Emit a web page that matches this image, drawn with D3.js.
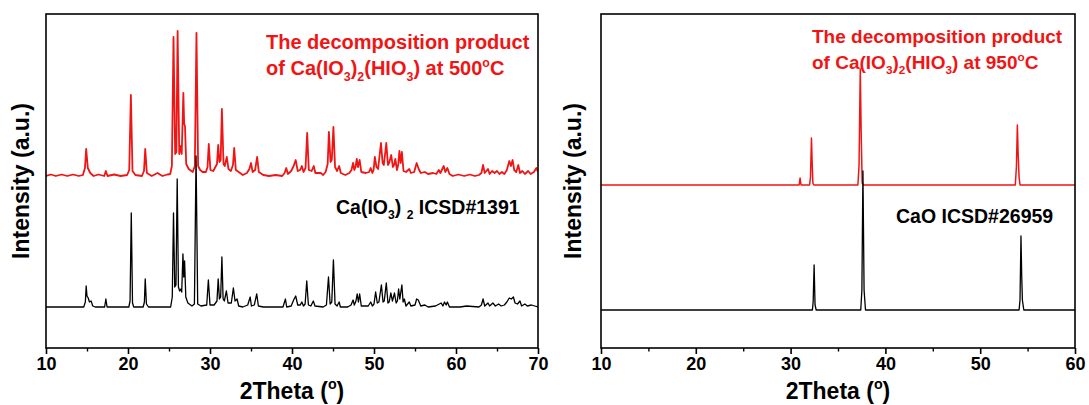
<!DOCTYPE html>
<html>
<head>
<meta charset="utf-8">
<script src="https://cdn.jsdelivr.net/npm/d3@7"></script>
<style>
  body { margin: 0; background: #fff; }
  text { font-family: "Liberation Sans", Arial, sans-serif; font-weight: bold; }
</style>
</head>
<body>
<svg id="chart" width="1089" height="405"></svg>
<script>
// ---- data (2Theta in degrees, intensity in a.u.) ----
const xTicksLeft = [10, 20, 30, 40, 50, 60, 70];
const xMinorLeft = [15, 25, 35, 45, 55, 65];
const xTicksRight = [10, 20, 30, 40, 50, 60];
const xMinorRight = [15, 25, 35, 45, 55];

// vertical offsets of the stacked patterns (a.u.)
const offsetLeftRed = 172;
const offsetLeftBlack = 41;
const offsetRightRed = 163;
const offsetRightBlack = 38;

// decomposition product at 500 C
const leftRed = [
  [10,0],[10.6,1.5],[11.2,0],[11.9,1.5],[12.6,0],[13.3,1.5],[14,0],[14.5,1],[14.75,8],[14.9,27],[15.1,8],[15.4,3],[15.8,0],
  [16.4,1.5],[17.1,0],[17.3,5],[17.5,0],[18.3,1.5],[19.1,0],[19.9,1],[20.15,6],[20.35,81],[20.55,5],[20.9,1],[21.7,0],
  [21.95,5],[22.1,27],[22.3,3],[22.9,0],[23.6,3],[24.2,0],[24.8,1.5],[25.15,2],[25.35,10],[25.55,139],[25.75,22],[25.9,24],
  [26.05,145],[26.25,22],[26.45,30],[26.55,22],[26.75,83],[26.85,52],[26.95,50],[27.1,12],[27.4,7],[27.9,4],[28.15,10],
  [28.35,143],[28.55,10],[28.8,6],[29.1,4],[29.5,4],[29.7,9],[29.85,32],[30.05,6],[30.4,5],[30.85,12],[31.0,31],[31.15,14],
  [31.3,16],[31.45,67],[31.65,12],[31.8,10],[32.05,19],[32.25,7],[32.55,5],[32.8,11],[32.95,28],[33.15,6],[33.5,4],[34.0,1],
  [34.5,3],[34.8,7],[35.0,13],[35.2,4],[35.5,6],[35.75,19],[35.95,4],[36.5,1],[37.2,0],[38.0,1],[38.8,0],[39.1,3],[39.3,8],
  [39.5,2],[39.9,5],[40.2,10],[40.45,16],[40.7,5],[41.0,6],[41.2,10],[41.4,4],[41.65,8],[41.85,43],[42.05,6],[42.4,5],
  [42.65,10],[42.85,3],[43.5,3],[43.8,1],[44.1,4],[44.35,12],[44.5,44],[44.7,14],[44.85,16],[45.05,49],[45.25,9],[45.5,5],
  [45.75,10],[45.95,3],[46.5,1],[47.0,3],[47.25,6],[47.45,13],[47.6,6],[47.75,9],[47.9,17],[48.05,9],[48.25,16],[48.45,4],
  [49.0,3],[49.4,4],[49.6,8],[49.8,3],[49.95,6],[50.1,19],[50.3,9],[50.5,7],[50.85,33],[51.05,13],[51.2,11],[51.5,33],
  [51.7,11],[51.85,13],[52.1,21],[52.3,9],[52.45,11],[52.6,17],[52.8,6],[52.95,11],[53.1,25],[53.25,13],[53.4,24],[53.6,5],
  [53.9,4],[54.3,7],[54.5,3],[54.9,4],[55.2,13],[55.45,7],[55.7,3],[56.2,4],[56.6,2],[57.2,3],[57.6,2],[57.9,6],[58.1,3],
  [58.5,10],[58.7,4],[58.95,8],[59.2,2],[59.6,0],[60.3,1.5],[61.0,0],[61.7,1.5],[62.3,0],[62.8,1],[63.1,3],[63.3,11],
  [63.5,3],[63.9,7],[64.1,2],[64.4,5],[64.7,3],[65.0,5],[65.3,2],[65.6,4],[65.9,2],[66.2,6],[66.5,15],[66.7,10],[66.9,16],
  [67.1,6],[67.35,4],[67.6,11],[67.8,3],[68.1,5],[68.4,2],[68.8,5],[69.1,2],[69.5,4],[69.8,8],[70,4]
];

// Ca(IO3)2 ICSD#1391
const leftBlack = [
  [10,0],[14.6,0],[14.8,5],[14.9,21],[15.0,11],[15.15,9],[15.3,5],[15.5,6],[15.7,1],[16,0],[17.15,0],[17.3,8],[17.45,0],
  [20.1,0],[20.25,6],[20.4,94],[20.55,4],[20.7,0],[21.85,0],[22.0,5],[22.1,28],[22.25,3],[22.5,0],[25.2,0],[25.4,10],
  [25.55,94],[25.7,20],[25.85,22],[26.0,128],[26.15,20],[26.3,16],[26.45,18],[26.55,15],[26.7,53],[26.8,30],[26.9,46],
  [27.05,10],[27.3,4],[27.8,1],[28.1,3],[28.3,151],[28.5,3],[28.9,1],[29.6,2],[29.8,27],[30.0,2],[30.5,2],[30.85,6],
  [31.0,28],[31.15,8],[31.3,10],[31.45,50],[31.6,8],[31.75,6],[32.0,16],[32.2,4],[32.6,4],[32.85,19],[33.05,6],[33.3,8],
  [33.5,1],[34.0,0],[34.6,2],[34.9,10],[35.05,1],[35.4,2],[35.7,13],[35.9,1],[36.5,0],[38.9,0],[39.2,8],[39.35,0],[39.9,1],
  [40.2,7],[40.45,11],[40.7,2],[41.0,2],[41.2,5],[41.4,1],[41.6,3],[41.8,26],[42.0,2],[42.3,1],[42.6,6],[42.8,1],[43.8,0],
  [44.2,2],[44.45,30],[44.65,3],[44.85,5],[45.05,47],[45.25,3],[45.5,1],[45.75,5],[45.9,0],[46.8,0],[47.2,2],[47.45,7],
  [47.6,2],[47.8,6],[47.95,13],[48.1,5],[48.25,13],[48.45,1],[49.0,1],[49.3,1],[49.6,5],[49.8,1],[50.0,3],[50.2,15],
  [50.4,4],[50.6,5],[50.9,22],[51.1,5],[51.25,6],[51.5,24],[51.7,4],[51.85,5],[52.05,14],[52.25,6],[52.5,14],[52.7,4],
  [52.85,6],[53.0,18],[53.15,8],[53.4,22],[53.55,5],[53.7,8],[53.9,1],[54.3,5],[54.5,1],[55.0,2],[55.2,8],[55.4,7],
  [55.7,1],[56.2,2],[56.6,0],[57.5,1],[58.2,4],[58.4,1],[58.6,5],[58.8,2],[58.95,5],[59.2,0],[60.5,0],[61.3,1],[62.8,0],
  [63.1,2],[63.3,8],[63.5,1],[63.9,4],[64.1,1],[64.5,4],[64.8,1],[65.2,3],[65.5,1],[65.9,2],[66.2,5],[66.5,9],[66.75,8],
  [67.0,10],[67.2,4],[67.5,3],[67.8,6],[68.0,1],[68.4,3],[68.7,1],[69.2,2],[69.6,1],[70,0]
];

// decomposition product at 950 C
const rightRed = [
  [10,0],[30.9,0],[31.0,7],[31.1,0],[32.0,0],[32.1,8],[32.2,47],[32.27,24],[32.35,2],[32.45,0],[37.1,0],[37.22,20],
  [37.35,116],[37.44,55],[37.55,2],[37.7,0],[53.7,0],[53.82,18],[53.92,60],[54.0,32],[54.1,8],[54.2,0],[60,0]
];

// CaO ICSD#26959
const rightBlack = [
  [10,0],[32.3,0],[32.38,8],[32.48,45],[32.58,5],[32.7,0],[37.4,0],[37.52,20],[37.63,139],[37.75,20],[37.9,0],
  [54.1,0],[54.2,10],[54.3,74],[54.38,34],[54.45,10],[54.6,0],[60,0]
];

// ---- layout ----
const red = "#f01515";
const svg = d3.select("#chart");
const plotTop = 14, plotBottom = 348;

const panels = [
  {
    x0: 46, x1: 538, domain: [10, 70], ticks: xTicksLeft, minor: xMinorLeft,
    series: [
      { data: leftRed, offset: offsetLeftRed, color: red, width: 1.8 },
      { data: leftBlack, offset: offsetLeftBlack, color: "#000", width: 1.3 }
    ],
    redText: { x: 266, y: 49, size: 20, cond: "500" },
    blackText: { x: 336, y: 214, parts: [["Ca(IO",0],["3",1],[")",0],[" ",0],["2",1],[" ICSD#1391",0]] },
    yTitleX: 29
  },
  {
    x0: 601, x1: 1075, domain: [10, 60], ticks: xTicksRight, minor: xMinorRight,
    series: [
      { data: rightRed, offset: offsetRightRed, color: red, width: 1.5 },
      { data: rightBlack, offset: offsetRightBlack, color: "#000", width: 1.3 }
    ],
    redText: { x: 812, y: 43, size: 19, cond: "950" },
    blackText: { x: 896, y: 223, parts: [["CaO ICSD#26959",0]] },
    yTitleX: 581
  }
];

// parts: [text, 0 normal | 1 subscript | -1 superscript]
function richText(g, x, y, parts, size, color) {
  const t = g.append("text").attr("x", x).attr("y", y)
    .attr("fill", color).style("font-size", size + "px");
  let shift = 0;
  parts.forEach(([s, k]) => {
    const target = k === 1 ? size * 0.28 : k === -1 ? -size * 0.42 : 0;
    t.append("tspan")
      .attr("dy", target - shift)
      .style("font-size", (k === 0 ? size : size * 0.62) + "px")
      .text(s);
    shift = target;
  });
  return t;
}

panels.forEach((p, i) => {
  const x = d3.scaleLinear().domain(p.domain).range([p.x0, p.x1]);
  const y = d3.scaleLinear().domain([0, plotBottom - plotTop]).range([plotBottom, plotTop]);
  const g = svg.append("g");

  g.append("clipPath").attr("id", "clip" + i)
    .append("rect").attr("x", p.x0).attr("y", plotTop)
    .attr("width", p.x1 - p.x0).attr("height", plotBottom - plotTop);

  p.series.forEach(s => {
    const line = d3.line()
      .x(d => x(d[0]))
      .y(d => y(d[1] + s.offset));
    g.append("path")
      .datum(s.data)
      .attr("clip-path", `url(#clip${i})`)
      .attr("fill", "none")
      .attr("stroke", s.color)
      .attr("stroke-width", s.width)
      .attr("stroke-linejoin", "round")
      .attr("d", line);
  });

  // frame
  g.append("rect")
    .attr("x", p.x0).attr("y", plotTop)
    .attr("width", p.x1 - p.x0).attr("height", plotBottom - plotTop)
    .attr("fill", "none").attr("stroke", "#000").attr("stroke-width", 1.6);

  // bottom axis, major and minor ticks
  const ax = g.append("g").attr("transform", `translate(0,${plotBottom})`)
    .call(d3.axisBottom(x).tickValues(p.ticks).tickSize(6).tickPadding(3).tickFormat(d3.format("d")));
  ax.select(".domain").remove();
  ax.selectAll(".tick line").attr("stroke-width", 1.6);
  ax.selectAll(".tick text")
    .attr("fill", "#000")
    .style("font-size", "18px")
    .style("font-family", "\"Liberation Sans\", Arial, sans-serif")
    .style("font-weight", "bold");

  const mx = g.append("g").attr("transform", `translate(0,${plotBottom})`)
    .call(d3.axisBottom(x).tickValues(p.minor).tickSize(3.5).tickFormat(""));
  mx.select(".domain").remove();
  mx.selectAll(".tick line").attr("stroke-width", 1.4);

  // axis titles
  const cx = (p.x0 + p.x1) / 2;
  const xt = richText(g, cx, 399, [["2Theta (",0],["o",-1],[")",0]], 23, "#000");
  xt.attr("text-anchor", "middle");

  g.append("text")
    .attr("transform", `translate(${p.yTitleX},${(plotTop + plotBottom) / 2}) rotate(-90)`)
    .attr("text-anchor", "middle")
    .style("font-size", "23px")
    .attr("fill", "#000")
    .text("Intensity (a.u.)");

  // annotations
  const rs = p.redText.size;
  richText(g, p.redText.x, p.redText.y, [["The decomposition product",0]], rs, red);
  richText(g, p.redText.x, p.redText.y + 26,
    [["of Ca(IO",0],["3",1],[")",0],["2",1],["(HIO",0],["3",1],[") at " + p.redText.cond,0],["o",-1],["C",0]], rs, red);
  richText(g, p.blackText.x, p.blackText.y, p.blackText.parts, 19.5, "#000");
});
</script>
</body>
</html>
